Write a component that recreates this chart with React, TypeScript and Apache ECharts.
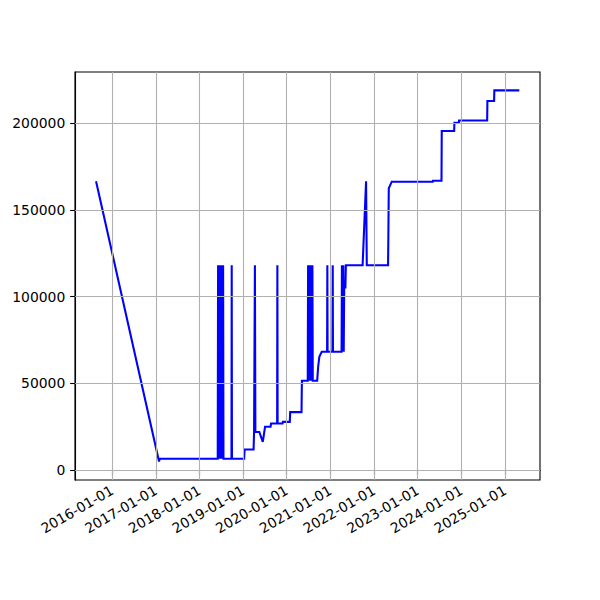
import React, { useEffect, useRef } from "react";
import * as echarts from "echarts";

// Dates of the observations
const dates: string[] = [
  "2015-08-20", "2017-01-28", "2017-02-03",
  "2018-06-03", "2018-06-06", "2018-06-09", "2018-06-12", "2018-06-15", "2018-06-18", "2018-06-21",
  "2018-06-24", "2018-06-27", "2018-06-30", "2018-07-03", "2018-07-06", "2018-07-09", "2018-07-12",
  "2018-07-15", "2018-07-18", "2018-07-21",
  "2018-09-26", "2018-09-28", "2018-09-30",
  "2019-01-10", "2019-01-14",
  "2019-03-30", "2019-04-03", "2019-04-10", "2019-04-14",
  "2019-05-17", "2019-06-15", "2019-07-04",
  "2019-08-19", "2019-08-23",
  "2019-10-13", "2019-10-15", "2019-10-17",
  "2019-11-27", "2019-11-30",
  "2020-01-27", "2020-01-30",
  "2020-05-04", "2020-05-07",
  "2020-06-25", "2020-06-28", "2020-07-01", "2020-07-04", "2020-07-07", "2020-07-10", "2020-07-13",
  "2020-07-16", "2020-07-19", "2020-07-22", "2020-07-25", "2020-07-28", "2020-07-31", "2020-08-03",
  "2020-08-06",
  "2020-09-12", "2020-09-20", "2020-09-30", "2020-10-20",
  "2020-12-04", "2020-12-06", "2020-12-08",
  "2021-01-18", "2021-01-20", "2021-01-22",
  "2021-04-04", "2021-04-07", "2021-04-10", "2021-04-13", "2021-04-16", "2021-04-19", "2021-04-22",
  "2021-04-26", "2021-05-06", "2021-05-10",
  "2021-09-27", "2021-10-26", "2021-11-01",
  "2022-04-28", "2022-04-30", "2022-05-04", "2022-05-29",
  "2023-05-07", "2023-05-09",
  "2023-07-19", "2023-07-21",
  "2023-11-02", "2023-11-04",
  "2023-12-11", "2023-12-13",
  "2024-08-04", "2024-08-06",
  "2024-10-01", "2024-10-03",
  "2025-04-30",
];

// Values at those dates
const values: number[] = [
  166500, 5000, 6500,
  6500, 118000, 6500, 118000, 6500, 118000, 6500,
  118000, 6500, 118000, 6500, 118000, 6500, 118000,
  6500, 118000, 6500,
  6500, 118000, 6500,
  6500, 11900,
  11900, 22000, 118000, 22000,
  22000, 16300, 25000,
  25000, 26900,
  26900, 118000, 26900,
  26900, 27800,
  27800, 33400,
  33400, 51500,
  51500, 118000, 51500, 118000, 51500, 118000, 51500,
  118000, 51500, 118000, 51500, 118000, 51500, 118000,
  51500,
  51500, 59500, 65300, 68200,
  68200, 118000, 68200,
  68200, 118000, 68200,
  68200, 118000, 68200, 118000, 68200, 118000, 68200,
  105300, 105300, 118000,
  118000, 166400, 118000,
  118000, 131600, 162400, 166200,
  166200, 166700,
  166700, 195400,
  195400, 200200,
  200200, 201500,
  201500, 212700,
  212700, 218800,
  218800,
];

const xTickLabels: string[] = [
  "2016-01-01", "2017-01-01", "2018-01-01", "2019-01-01", "2020-01-01",
  "2021-01-01", "2022-01-01", "2023-01-01", "2024-01-01", "2025-01-01",
];
const yTicks: number[] = [0, 50000, 100000, 150000, 200000];

const toTs = (s: string) => {
  const [y, m, d] = s.split("-").map(Number);
  return Date.UTC(y, m - 1, d);
};

export default function App() {
  const ref = useRef<HTMLDivElement>(null);
  useEffect(() => {
    if (!ref.current) return;
    const chart = echarts.init(ref.current, undefined, { renderer: "svg" });
    const xTicks = xTickLabels.map(toTs);
    const font = { fontFamily: "DejaVu Sans", fontSize: 13.9, color: "#000" };
    chart.setOption({
      animation: false,
      backgroundColor: "#fff",
      grid: {
        left: 75, right: 60, top: 72, bottom: 120,
        show: true, borderColor: "#000", borderWidth: 1.1, backgroundColor: "transparent",
        containLabel: false,
      },
      xAxis: {
        type: "value",
        min: toTs("2015-02-25"),
        max: toTs("2025-10-20"),
        axisLine: { show: true, lineStyle: { color: "#000", width: 1.1 } },
        axisTick: { show: true, length: 4.9, lineStyle: { color: "#000", width: 1.1 }, customValues: xTicks },
        splitLine: { show: false },
        axisLabel: {
          ...font,
          rotate: 30,
          margin: 9,
          customValues: xTicks,
          hideOverlap: false,
          formatter: (v: number) => {
            const d = new Date(v);
            const mm = String(d.getUTCMonth() + 1).padStart(2, "0");
            const dd = String(d.getUTCDate()).padStart(2, "0");
            return `${d.getUTCFullYear()}-${mm}-${dd}`;
          },
        },
      },
      yAxis: {
        type: "value",
        min: -5700,
        max: 229400,
        axisLine: { show: true, lineStyle: { color: "#000", width: 1.1 } },
        axisTick: { show: true, length: 4.9, lineStyle: { color: "#000", width: 1.1 }, customValues: yTicks },
        splitLine: { show: false },
        axisLabel: { ...font, margin: 9.7, customValues: yTicks, formatter: (v: number) => String(v) },
      },
      series: [
        {
          type: "line",
          data: dates.map((d, i) => [toTs(d), values[i]]),
          showSymbol: false,
          symbol: "none",
          lineStyle: { color: "#0000ff", width: 2.08, join: "miter" },
          itemStyle: { color: "#0000ff" },
          z: 3,
        },
        {
          type: "line",
          data: [],
          markLine: {
            silent: true,
            symbol: "none",
            label: { show: false },
            lineStyle: { color: "#b0b0b0", width: 1.1, type: "solid" },
            data: [
              ...xTicks.map((t) => ({ xAxis: t })),
              ...yTicks.map((v) => ({ yAxis: v })),
            ],
          },
          z: 1,
        },
      ],
    });
    return () => chart.dispose();
  }, []);
  return (
    <div
      ref={ref}
      style={{ position: "absolute", left: 0, top: 0, width: 600, height: 600, background: "#fff" }}
    />
  );
}
